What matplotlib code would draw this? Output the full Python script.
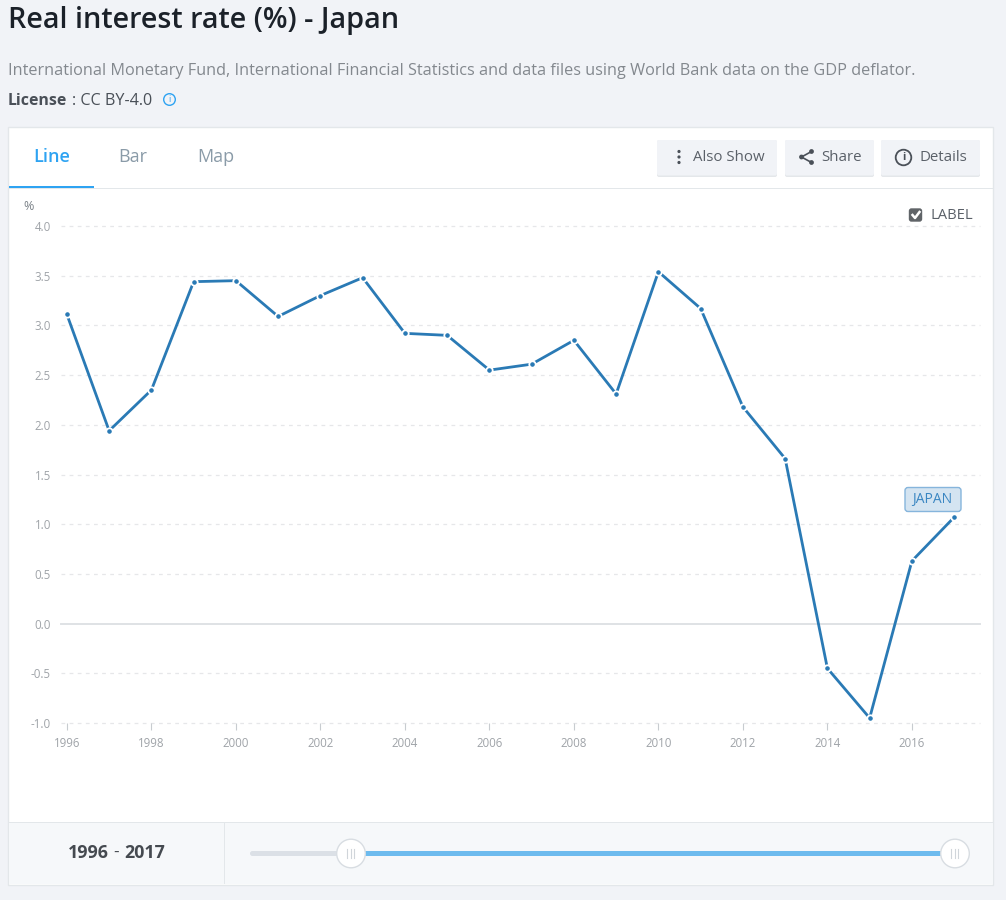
import matplotlib
matplotlib.use("Agg")
import matplotlib.pyplot as plt
from matplotlib.patches import Rectangle, FancyBboxPatch, Circle

plt.rcParams['font.family'] = ['Open Sans', 'DejaVu Sans']

W, H = 1006, 900

years = [1996, 1997, 1998, 1999, 2000, 2001, 2002, 2003, 2004, 2005, 2006,
         2007, 2008, 2009, 2010, 2011, 2012, 2013, 2014, 2015, 2016, 2017]
rate = [3.11, 1.94, 2.35, 3.44, 3.45, 3.09, 3.30, 3.48, 2.92, 2.90, 2.55,
        2.61, 2.85, 2.31, 3.54, 3.17, 2.18, 1.66, -0.45, -0.95, 0.63, 1.07]
y_ticks = [-1.0, -0.5, 0.0, 0.5, 1.0, 1.5, 2.0, 2.5, 3.0, 3.5, 4.0]
x_ticks = list(range(1996, 2017, 2))

BLUE = '#2a7ab5'
BG = '#f1f3f7'
BORDER = '#e3e7ea'

fig = plt.figure(figsize=(W / 100, H / 100), dpi=100, facecolor=BG)

# page layer, in pixels from the top left corner
ui = fig.add_axes([0, 0, 1, 1], zorder=0)
ui.set_xlim(0, W)
ui.set_ylim(H, 0)
ui.axis('off')


def rect(x, y, w, h, fc, ec='none', lw=0, z=1):
    ui.add_patch(Rectangle((x, y), w, h, fc=fc, ec=ec, lw=lw, zorder=z))


def button(x, w):
    for fc, h, z in (('#e4e7ea', 37, 2), ('#f1f3f7', 35.5, 3)):
        ui.add_patch(FancyBboxPatch((x, 140), w, h, boxstyle='round,pad=0,rounding_size=2',
                                    fc=fc, ec='none', zorder=z))


def label(x, y, s, size, color, weight='normal', ha='left'):
    ui.text(x, y, s, fontsize=size, color=color, fontweight=weight, ha=ha,
            va='center', zorder=6)


# header
label(8, 20.5, 'Real interest rate (%) - Japan', 20.7, '#1b2129', 'semibold')
label(8, 71, 'International Monetary Fund, International Financial Statistics '
      'and data files using World Bank data on the GDP deflator.', 11.7, '#83888e')
label(8, 101, 'License', 11.4, '#4a5058', 'bold')
label(72.5, 101, ': CC BY-4.0', 11.6, '#4a5058')
ui.add_patch(Circle((169.5, 99.5), 5.8, fc='none', ec='#2ea3f2', lw=1, zorder=6))
label(169.5, 99.5, 'i', 6.5, '#2ea3f2', ha='center')

# card
rect(8.5, 127, 985, 757.5, 'white', BORDER, 1)
rect(9, 188, 984, 1, BORDER, z=2)
rect(9, 186, 85, 2, '#2ea3f2', z=3)
label(51.5, 156.5, 'Line', 13, '#2ea3f2', 'semibold', ha='center')
label(133, 156.5, 'Bar', 13, '#8a9ba8', ha='center')
label(215.5, 156.5, 'Map', 13, '#8a9ba8', ha='center')

# buttons
button(657, 120)
button(785, 89)
button(881, 99)
for dot_y in (151.5, 157, 162.5):
    ui.add_patch(Circle((679, dot_y), 1.6, fc='#4a5058', ec='none', zorder=6))
label(693.5, 157.5, 'Also Show', 10.8, '#5a6068')
ui.plot([811.5, 801.5, 811.5], [151.5, 157, 162.5], color='#4a5058', lw=1.2, zorder=5)
for cx, cy in ((811.5, 151.5), (801.5, 157), (811.5, 162.5)):
    ui.add_patch(Circle((cx, cy), 2.4, fc='#4a5058', ec='none', zorder=6))
label(821, 157.5, 'Share', 10.8, '#5a6068')
ui.add_patch(Circle((903.5, 157.5), 7.8, fc='none', ec='#4a5058', lw=1.3, zorder=6))
label(903.5, 157.5, 'i', 8, '#4a5058', 'bold', ha='center')
label(920, 157.5, 'Details', 10.8, '#5a6068')

# label checkbox
ui.add_patch(FancyBboxPatch((909.5, 209), 12, 12, boxstyle='round,pad=0,rounding_size=2',
                            fc='#606468', ec='#606468', lw=1, zorder=5))
ui.plot([912.5, 915, 919.5], [215, 218, 212], color='white', lw=1.8, zorder=6)
label(931, 215.5, 'LABEL', 10.6, '#5a6068')

# unit
label(23, 206, '%', 9, '#7b8288')

# bottom slider bar
rect(9, 822.5, 984, 61.5, '#f6f8fa', z=2)
rect(9, 822, 984, 1, BORDER, z=3)
rect(224, 823, 1, 61, BORDER, z=3)
label(109, 853, '1996', 12.8, '#454a50', 'bold', ha='right')
label(116.5, 853, '-', 12.4, '#454a50', ha='center')
label(124, 853, '2017', 12.8, '#454a50', 'bold')
ui.add_patch(FancyBboxPatch((250, 851), 100, 5, boxstyle='round,pad=0,rounding_size=2.5',
                            fc='#dbe0e6', ec='none', zorder=3))
rect(351, 851, 604, 5, '#6dbbee', z=3)
for knob_x in (351, 955):
    ui.add_patch(Circle((knob_x, 853.5), 14.3, fc='white', ec='#d8dde2', lw=1, zorder=5))
    for dx in (-3.5, 0, 3.5):
        ui.plot([knob_x + dx, knob_x + dx], [849, 858], color='#d0d5da', lw=0.8, zorder=6)

# tag box behind the series name
ui.add_patch(FancyBboxPatch((905, 487.5), 56, 24, boxstyle='round,pad=0,rounding_size=3',
                            fc='#d4e4f1', ec='#86b5dc', lw=1, zorder=5))

# chart, placed so the ticks land on the same pixels
left, right, top, bottom = 61, 980, 226, 723
ax = fig.add_axes([left / W, 1 - bottom / H, (right - left) / W, (bottom - top) / H],
                  zorder=1)
ax.patch.set_alpha(0)
px_per_year = 42.25
ax.set_xlim(1996 - (66.9 - left) / px_per_year, 1996 + (right - 66.9) / px_per_year)
ax.set_ylim(-1, 4)
for s in ax.spines.values():
    s.set_visible(False)

ax.set_yticks(y_ticks)
ax.set_yticklabels(['%.1f' % v for v in y_ticks])
ax.set_xticks(x_ticks)
ax.tick_params(axis='y', length=0, pad=7.2, labelsize=8.3, labelcolor='#9fa3a8')
ax.tick_params(axis='x', length=5, width=0.8, color='#c8ccd0', pad=5.4, labelsize=8.3,
               labelcolor='#9fa3a8')
for v in y_ticks:
    if v == 0:
        ax.axhline(v, color='#dfe2e5', lw=1.4, zorder=1, clip_on=False)
    else:
        ax.axhline(v, color='#e6e7e9', lw=0.9, dashes=(3, 3.5), zorder=1, clip_on=False)

ax.plot(years, rate, color=BLUE, lw=2.0, zorder=3, clip_on=False)
ax.plot(years, rate, ls='none', marker='o', ms=4.6, mfc=BLUE, mec='white', mew=1.3,
        zorder=4, clip_on=False)

# series name above the last point
ax.annotate('JAPAN', (years[-1], rate[-1]), xytext=(-15.5, 12.6), textcoords='offset points',
            ha='center', va='center', fontsize=10, color='#3a86c2', zorder=5)

fig.savefig('out.png', dpi=100, facecolor=BG)
